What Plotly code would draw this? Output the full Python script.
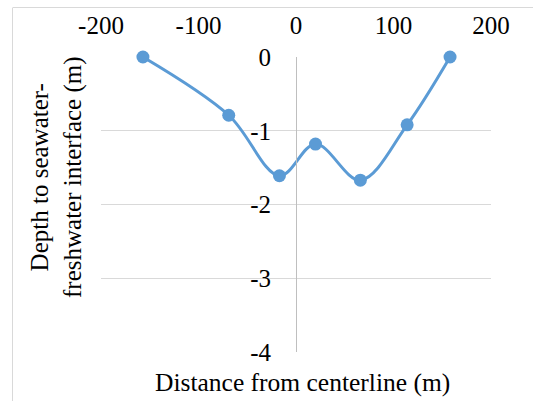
import plotly.graph_objects as go

distance = [-157, -69, -17, 20, 66, 114, 158]
depth = [0.0, -0.79, -1.61, -1.18, -1.67, -0.92, 0.0]
x_ticks = [-200, -100, 0, 100, 200]
x_tick_text = ["-200", "-100", "0", "100", "200"]
y_ticks = [0, -1, -2, -3, -4]
y_tick_text = ["0", "-1", "-2", "-3", "-4"]

W, H = 533, 401
L, R, T, B = 101, 42, 57, 49
pw, ph = W - L - R, H - T - B

def px(x):
    return (x - L) / pw

def py(y):
    return (H - B - y) / ph

FONT = "Liberation Serif, Times New Roman, serif"
fig = go.Figure()
fig.add_trace(go.Scatter(
    x=distance, y=depth, mode="lines+markers",
    line=dict(color="#5B9BD5", width=3, shape="spline"),
    marker=dict(color="#5B9BD5", size=13),
    cliponaxis=False, showlegend=False,
))

fig.update_layout(
    width=W, height=H,
    margin=dict(l=L, r=R, t=T, b=B),
    paper_bgcolor="white", plot_bgcolor="white",
    font=dict(family=FONT, size=25, color="black"),
    xaxis=dict(range=[-200, 200], tickvals=x_ticks, ticktext=x_tick_text,
               side="top", showgrid=False, zeroline=False, showline=False,
               ticks="", ticklabelstandoff=17),
    yaxis=dict(range=[-4, 0], tickvals=y_ticks, ticktext=y_tick_text,
               anchor="free", position=0.5,
               showgrid=True, gridcolor="#D9D9D9", gridwidth=1,
               zeroline=False, showline=True, linecolor="#BFBFBF", linewidth=1,
               ticks="", ticklabelstandoff=20),
    annotations=[
        dict(text="Distance from centerline (m)", x=px(302), y=py(382),
             xref="paper", yref="paper", showarrow=False,
             xanchor="center", yanchor="middle", font=dict(size=25.5)),
        dict(text="Depth to seawater-<br>freshwater interface (m)",
             x=px(56), y=py(177), xref="paper", yref="paper",
             showarrow=False, textangle=-90,
             xanchor="center", yanchor="middle", font=dict(size=25)),
    ],
    shapes=[
        dict(type="line", xref="paper", yref="paper",
             x0=px(13), x1=px(540), y0=py(7.5), y1=py(7.5),
             line=dict(color="#D9D9D9", width=1)),
        dict(type="line", xref="paper", yref="paper",
             x0=px(12.5), x1=px(12.5), y0=py(7.5), y1=py(410),
             line=dict(color="#D9D9D9", width=1)),
    ],
)

fig.write_html("out.html")
